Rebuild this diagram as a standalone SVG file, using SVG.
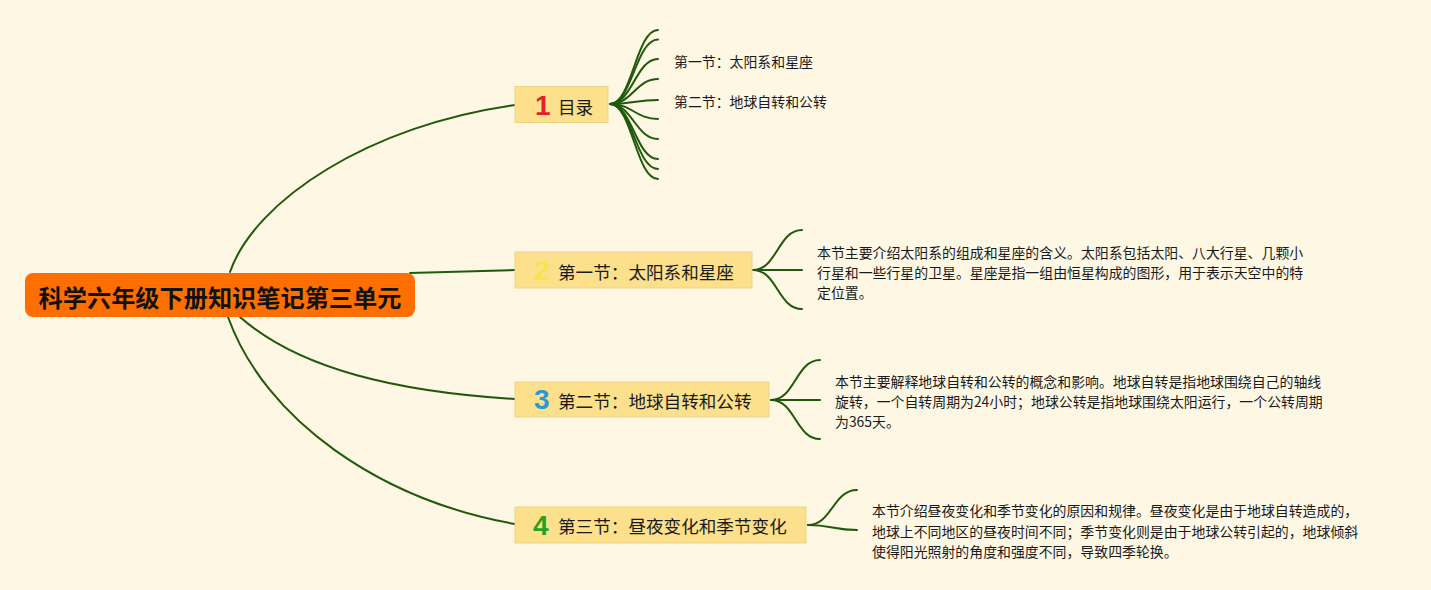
<svg xmlns="http://www.w3.org/2000/svg" width="1431" height="590" viewBox="0 0 1431 590">
<style>
.bg{fill:#fdf7e4}
.ln{fill:none;stroke:#1f5a0c;stroke-width:2;stroke-linecap:round}
.box{fill:#fce08c;stroke:#efd486;stroke-width:1}
.lbl{font-family:"Noto Sans CJK SC","Noto Sans",sans-serif;font-size:17.6px;fill:#1a1a1a}
.num{font-family:"Liberation Sans","Noto Sans",sans-serif;font-weight:bold;font-size:28px}
.sm{font-family:"Noto Sans CJK SC","Noto Sans",sans-serif;font-size:13.9px;fill:#1a1a1a}
.root{font-family:"Noto Sans CJK SC","Noto Sans",sans-serif;font-size:24.2px;font-weight:bold;fill:#111}
</style>
<rect class="bg" x="0" y="0" width="1431" height="590"/>
<g id="connectors">
<path class="ln" d="M230,272 C255,200 370,125 515,105"/>
<path class="ln" d="M410,273 L515,270"/>
<path class="ln" d="M240,317 C300,370 400,392 515,399"/>
<path class="ln" d="M228,317 C265,420 380,500 515,524"/>
<path class="ln" d="M610,104 C632,104 636,30 658,30"/>
<path class="ln" d="M610,104 C632,104 636,39.5 658,39.5"/>
<path class="ln" d="M610,104 C632,104 636,59 658,59"/>
<path class="ln" d="M610,104 C632,104 636,79 658,79"/>
<path class="ln" d="M610,104 C632,104 636,100 658,100"/>
<path class="ln" d="M610,104 C632,104 636,119 658,119"/>
<path class="ln" d="M610,104 C632,104 636,139 658,139"/>
<path class="ln" d="M610,104 C632,104 636,159 658,159"/>
<path class="ln" d="M610,104 C632,104 636,169 658,169"/>
<path class="ln" d="M610,104 C632,104 636,179 658,179"/>
<path class="ln" d="M753,270 C777,270 778,230 802,230"/>
<path class="ln" d="M753,270 L802,270"/>
<path class="ln" d="M753,270 C777,270 778,309 802,309"/>
<path class="ln" d="M771,400 C795,400 796,360 820,360"/>
<path class="ln" d="M771,400 L820,400"/>
<path class="ln" d="M771,400 C795,400 796,439 820,439"/>
<path class="ln" d="M808,525 C832,525 833,490 857,490"/>
<path class="ln" d="M808,525 C832,525 833,530 857,530"/>
</g>
<g id="root">
<rect x="25" y="273" width="390" height="44" rx="8" fill="#ff6f00"/>
<text class="root" x="220" y="296" text-anchor="middle" dominant-baseline="central">科学六年级下册知识笔记第三单元</text>
</g>
<g id="node1">
<rect class="box" x="515" y="86.5" width="93" height="36"/>
<text class="num" x="535" y="115" fill="#e0222c">1</text>
<text class="lbl" x="558" y="106" dominant-baseline="central">目录</text>
</g>
<g id="node1a"><text class="sm" x="674" y="61" dominant-baseline="central">第一节：太阳系和星座</text></g>
<g id="node1b"><text class="sm" x="674" y="101" dominant-baseline="central">第二节：地球自转和公转</text></g>
<g id="node2">
<rect class="box" x="515" y="252" width="237" height="36"/>
<text class="num" x="534" y="280" fill="#f5e44c">2</text>
<text class="lbl" x="558" y="271" dominant-baseline="central">第一节：太阳系和星座</text>
</g>
<g id="node2a">
<text class="sm" x="817" y="252" dominant-baseline="central">本节主要介绍太阳系的组成和星座的含义。太阳系包括太阳、八大行星、几颗小</text>
<text class="sm" x="817" y="272" dominant-baseline="central">行星和一些行星的卫星。星座是指一组由恒星构成的图形，用于表示天空中的特</text>
<text class="sm" x="817" y="292" dominant-baseline="central">定位置。</text>
</g>
<g id="node3">
<rect class="box" x="515" y="382" width="254" height="35"/>
<text class="num" x="534" y="409" fill="#2a9ad6">3</text>
<text class="lbl" x="558" y="400" dominant-baseline="central">第二节：地球自转和公转</text>
</g>
<g id="node3a">
<text class="sm" x="835" y="381" dominant-baseline="central">本节主要解释地球自转和公转的概念和影响。地球自转是指地球围绕自己的轴线</text>
<text class="sm" x="835" y="401" dominant-baseline="central">旋转，一个自转周期为24小时；地球公转是指地球围绕太阳运行，一个公转周期</text>
<text class="sm" x="835" y="421" dominant-baseline="central">为365天。</text>
</g>
<g id="node4">
<rect class="box" x="515" y="507" width="291" height="36"/>
<text class="num" x="533" y="535" fill="#2aa120">4</text>
<text class="lbl" x="558" y="525" dominant-baseline="central">第三节：昼夜变化和季节变化</text>
</g>
<g id="node4a">
<text class="sm" x="872" y="510" dominant-baseline="central">本节介绍昼夜变化和季节变化的原因和规律。昼夜变化是由于地球自转造成的，</text>
<text class="sm" x="872" y="531" dominant-baseline="central">地球上不同地区的昼夜时间不同；季节变化则是由于地球公转引起的，地球倾斜</text>
<text class="sm" x="872" y="551" dominant-baseline="central">使得阳光照射的角度和强度不同，导致四季轮换。</text>
</g>
</svg>
